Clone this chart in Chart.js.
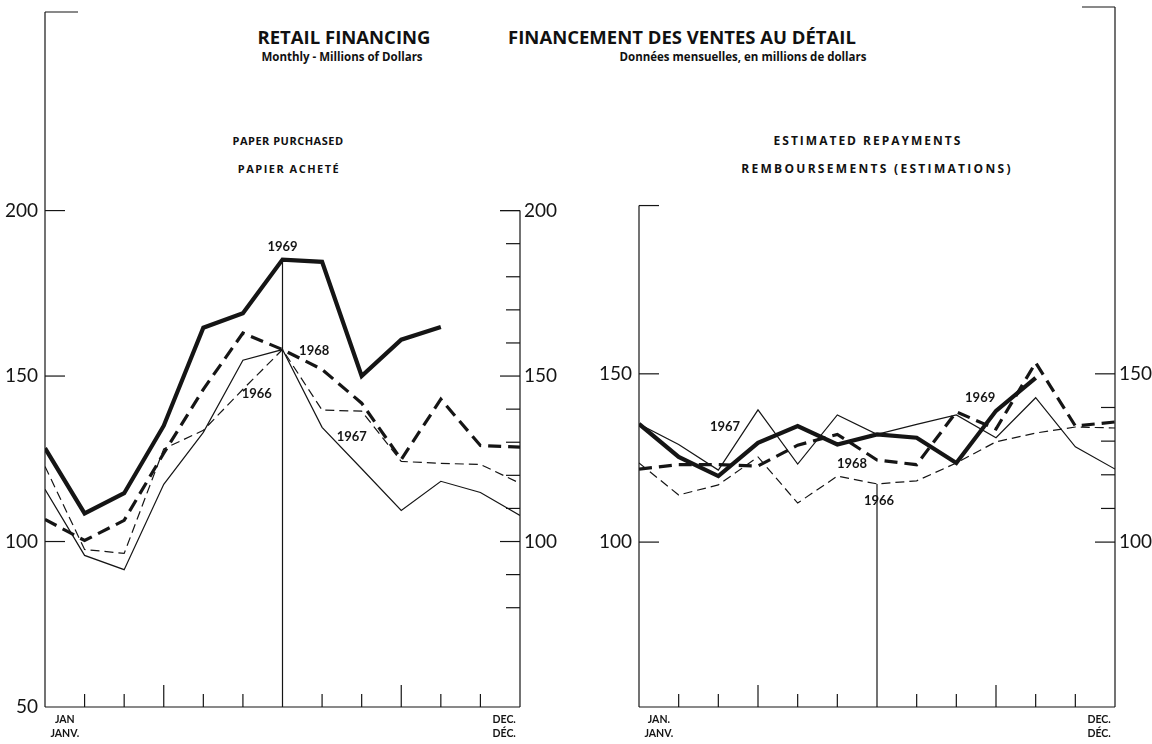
<!DOCTYPE html>
<html>
<head>
<meta charset="utf-8">
<script src="https://cdn.jsdelivr.net/npm/chart.js@4.4.1/dist/chart.umd.min.js"></script>
<style>
  body { margin: 0; background: #fff; width: 1152px; height: 744px; overflow: hidden; position: relative; }
  canvas { position: absolute; top: 0; }
  .t { position: absolute; text-align: center; color: #111; font-family: "Open Sans", sans-serif; font-weight: 700; white-space: nowrap; transform: translateX(-50%); line-height: 1; }
</style>
</head>
<body>
<div class="t" style="left:344px; top:28px; font-size:18.5px;">RETAIL FINANCING</div>
<div class="t" style="left:682px; top:28px; font-size:18.5px;">FINANCEMENT DES VENTES AU DÉTAIL</div>
<div class="t" style="left:342px; top:51px; font-size:11.5px;">Monthly - Millions of Dollars</div>
<div class="t" style="left:743px; top:51px; font-size:11.5px;">Données mensuelles, en millions de dollars</div>
<div class="t" style="left:288px; top:135px; font-size:11px; letter-spacing:0.5px;">PAPER PURCHASED</div>
<div class="t" style="left:289px; top:163px; font-size:11px; letter-spacing:1.5px;">PAPIER ACHETÉ</div>
<div class="t" style="left:868px; top:135px; font-size:12px; letter-spacing:2px;">ESTIMATED REPAYMENTS</div>
<div class="t" style="left:877px; top:163px; font-size:12px; letter-spacing:2.3px;">REMBOURSEMENTS (ESTIMATIONS)</div>

<canvas id="paper" width="580" height="744" style="left:0px"></canvas>
<canvas id="repay" width="572" height="744" style="left:580px"></canvas>

<script>
// month slots on the x axis (13 plotted positions)
const periods = [0, 1, 2, 3, 4, 5, 6, 7, 8, 9, 10, 11, 12];
const xTickSpots = [0.5, 11.6];
const janLabelPaper = ['JAN', 'JANV.'];
const janLabelRepay = ['JAN.', 'JANV.'];
const decLabel = ['DEC.', 'DÉC.'];

// Paper purchased, millions of dollars
const paper1966 = [122.7, 97.6, 96.4, 128, 133.6, 146, 158, 139.7, 139.4, 124.2, 123.6, 123.3, 117.6];
const paper1967 = [115.8, 95.8, 91.5, 117.3, 133, 154.8, 158, 134.5, 122, 109.4, 118.2, 114.8, 107.9];
const paper1968 = [106.7, 100.3, 106.4, 126.7, 146, 163, 158, 152, 141.8, 124.8, 143, 129, 128.5];
const paper1969 = [128.2, 108.5, 114.6, 135, 164.6, 169, 185.2, 184.5, 150, 161, 164.8];

// Estimated repayments, millions of dollars
const repay1966 = [123.5, 114, 117, 125.3, 111.6, 119.6, 117.3, 118.2, 123.5, 129.8, 132.4, 134.2, 133.9];
const repay1967 = [135.1, 129, 121.4, 139.3, 123.2, 137.8, 132, 135, 137.8, 131, 142.9, 128.3, 121.7];
const repay1968 = [121.7, 123, 123, 122.6, 128.8, 132, 124.4, 123, 138.7, 133.6, 153.3, 134.5, 135.7];
const repay1969 = [135.1, 125.3, 119.6, 129.5, 134.5, 129, 132, 131, 123.5, 139, 148.8];

const leftTicksPaper = [50, 100, 150, 200];
const rightTicksPaper = [100, 150, 200];
const ticksRepay = [100, 150];

const INK = '#151515';

function pts(arr) {
    return arr.map((v, i) => ({ x: periods[i], y: v }));
}

function series(arr, kind) {
    const styles = {
        y69: { borderWidth: 4.2, borderDash: [] },
        y68: { borderWidth: 3.2, borderDash: [13, 7] },
        y66: { borderWidth: 1.2, borderDash: [9, 5] },
        y67: { borderWidth: 1.2, borderDash: [] }
    };
    return Object.assign({
        data: pts(arr),
        borderColor: INK,
        pointRadius: 0,
        tension: 0,
        fill: false
    }, styles[kind]);
}

// draws the hand-made frame: axes, inward ticks, mid-year rule and year labels
const framePlugin = {
    id: 'frame',
    afterDatasetsDraw(chart, args, o) {
        const { ctx, chartArea, scales } = chart;
        const { left, right, top, bottom } = chartArea;
        const x = scales.x, y = scales.y;
        ctx.save();
        ctx.strokeStyle = INK;
        ctx.lineWidth = 1.2;
        const line = (x1, y1, x2, y2) => {
            ctx.beginPath(); ctx.moveTo(x1, y1); ctx.lineTo(x2, y2); ctx.stroke();
        };
        const lt = o.leftTop == null ? top : y.getPixelForValue(o.leftTop);
        const rt = o.rightTop == null ? top : y.getPixelForValue(o.rightTop);
        line(left, lt, left, bottom);
        line(left, lt, left + o.leftCap, lt);
        line(right, rt, right, bottom);
        line(right, rt, right - o.rightCap, rt);
        line(left, bottom, right, bottom);

        o.leftTicks.forEach(v => { const p = y.getPixelForValue(v); line(left, p, left + 20, p); });
        o.rightMajor.forEach(v => { const p = y.getPixelForValue(v); line(right - 20, p, right, p); });
        o.rightMinor.forEach(v => { const p = y.getPixelForValue(v); line(right - 14, p, right, p); });

        for (let i = 1; i < 12; i++) {
            const px = x.getPixelForValue(periods[i]);
            if (i === 6) {
                line(px, y.getPixelForValue(o.midFrom), px, bottom);
            } else {
                const len = (i === 3 || i === 9) ? 22 : 13;
                line(px, bottom - len, px, bottom);
            }
        }

        ctx.fillStyle = INK;
        ctx.font = 'bold 13px Lato, sans-serif';
        ctx.textAlign = 'center';
        ctx.textBaseline = 'middle';
        o.yearTags.forEach(t => {
            ctx.fillText(t.text, x.getPixelForValue(t.at), y.getPixelForValue(t.v));
        });
        ctx.restore();
    }
};

function noPad(s) {
    s.paddingTop = 0; s.paddingBottom = 0; s.paddingLeft = 0; s.paddingRight = 0;
}

function yScale(pos, width, ticks, pad, range) {
    return {
        position: pos,
        min: range[0],
        max: range[1],
        grid: { display: false, drawTicks: false },
        border: { display: false },
        afterFit(s) { s.width = width; noPad(s); },
        afterBuildTicks(s) { s.ticks = ticks.map(v => ({ value: v })); },
        ticks: { padding: pad, color: INK, font: { family: 'Lato', size: 19 } }
    };
}

function makeChart(id, sets, janLabel, pad, range, widths, frame, yLeft, yRight) {
    return new Chart(document.getElementById(id), {
        type: 'line',
        data: { datasets: sets },
        options: {
            responsive: false,
            animation: false,
            layout: { padding: { top: pad, left: 0, right: 0, bottom: 0 } },
            plugins: { legend: { display: false }, tooltip: { enabled: false }, frame: frame },
            scales: {
                x: {
                    type: 'linear',
                    min: periods[0],
                    max: periods[periods.length - 1],
                    grid: { display: false, drawTicks: false },
                    border: { display: false },
                    afterFit(s) { s.height = 37; noPad(s); },
                    afterBuildTicks(s) { s.ticks = xTickSpots.map(v => ({ value: v })); },
                    ticks: {
                        autoSkip: false,
                        maxRotation: 0,
                        padding: 5,
                        color: INK,
                        font: { family: 'Lato', weight: 'bold', size: 10.5, lineHeight: 1.4 },
                        callback: v => (v < 6 ? janLabel : decLabel)
                    }
                },
                y: yScale('left', widths[0], yLeft, 7, range),
                y2: yScale('right', widths[1], yRight, 4, range)
            }
        },
        plugins: [framePlugin]
    });
}

makeChart('paper',
    [series(paper1969, 'y69'), series(paper1968, 'y68'), series(paper1966, 'y66'), series(paper1967, 'y67')],
    janLabelPaper, 12, [50, 260], [45, 60],
    {
        leftTop: null, leftCap: 33, rightTop: 200, rightCap: 20,
        leftTicks: [100, 150, 200],
        rightMajor: [100, 150, 200],
        rightMinor: [190, 180, 170, 160, 140, 130, 120, 110, 90, 80],
        midFrom: paper1969[6],
        yearTags: [
            { text: '1969', at: 6, v: 189 },
            { text: '1968', at: 6.8, v: 157.7 },
            { text: '1966', at: 5.35, v: 144.7 },
            { text: '1967', at: 7.75, v: 131.5 }
        ]
    },
    leftTicksPaper, rightTicksPaper);

makeChart('repay',
    [series(repay1969, 'y69'), series(repay1968, 'y68'), series(repay1966, 'y66'), series(repay1967, 'y67')],
    janLabelRepay, 7, [51, 259], [59, 37],
    {
        leftTop: 200, leftCap: 20, rightTop: null, rightCap: 33,
        leftTicks: [100, 150],
        rightMajor: [100, 150],
        rightMinor: [140, 130, 120, 110],
        midFrom: repay1966[6],
        yearTags: [
            { text: '1967', at: 2.17, v: 134.2 },
            { text: '1968', at: 5.37, v: 123.2 },
            { text: '1966', at: 6.05, v: 112.2 },
            { text: '1969', at: 8.6, v: 142.9 }
        ]
    },
    ticksRepay, ticksRepay);
</script>
</body>
</html>
